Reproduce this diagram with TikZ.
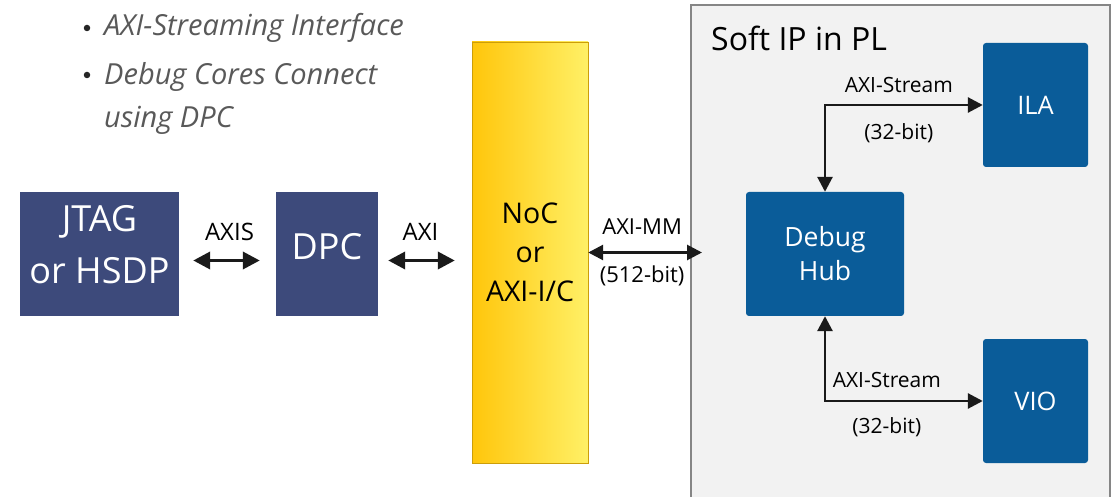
\documentclass[tikz,border=0pt]{standalone}
\usepackage{fontspec}
\setmainfont{Open Sans}
\usetikzlibrary{arrows.meta}
\definecolor{slate}{HTML}{3D4A7B}
\definecolor{ipblue}{HTML}{0A5C99}
\definecolor{softbg}{HTML}{F2F2F2}
\definecolor{softedge}{HTML}{868686}
\definecolor{bullettext}{HTML}{595959}
\definecolor{nocleft}{HTML}{FFC60B}
\definecolor{nocright}{HTML}{FFF066}
\definecolor{linkcol}{HTML}{1A1A1A}
\tikzset{
  fsz/.style={font=\fontsize{#1}{#1}\selectfont},
  hostbox/.style={fill=slate, inner sep=0pt, minimum height=124pt},
  hosttxt/.style={text=white, inner sep=0pt, align=center},
  ipbox/.style={fill=ipblue, text=white, rounded corners=3pt, inner sep=0pt,
    align=center, minimum height=124pt},
  hostlink/.style={draw=linkcol, line width=3.6pt,
    {Triangle[length=17pt,width=17pt]}-{Triangle[length=17pt,width=17pt]}},
  link/.style={draw=linkcol, line width=2.8pt,
    {Triangle[length=15pt,width=15pt]}-{Triangle[length=15pt,width=15pt]}},
  lbl/.style={text=black, inner sep=0pt, anchor=base, fsz=#1},
  lbl/.default=21,
  bulletdot/.style={circle, fill=black!85, inner sep=0pt, minimum size=6.5pt},
  bullettxt/.style={anchor=base west, inner sep=0pt, text=bullettext,
    font=\fontsize{29}{29}\selectfont\itshape},
}
\begin{document}
\begin{tikzpicture}[x=1pt, y=-1pt]
\useasboundingbox (0,0) rectangle (1112,497);

% bullet list
\node[bulletdot] (b1) at (87,28) {};
\node[bulletdot] (b2) at (87,75) {};
\node[bullettxt] (t1) at (104,36) {AXI-Streaming Interface};
\node[bullettxt] (t2) at (104,85) {Debug Cores Connect};
\node[bullettxt] (t3) at (104,128) {using DPC};

% host side blocks
\node[hostbox, minimum width=159pt] (jtag) at (99.5,254) {};
\node[hosttxt, font=\fontsize{36}{52}\selectfont] (jtagtxt)
  at ([yshift=9pt]jtag.center) {JTAG\\or HSDP};
\node[hostbox, minimum width=102pt] (dpc) at (327,254) {};
\node[hosttxt, fsz=36] (dpctxt) at ([yshift=7pt]dpc.center) {DPC};

% interconnect
\node[draw=nocleft!80!black, line width=0.4pt, left color=nocleft, right color=nocright,
      minimum width=116pt, minimum height=421pt, inner sep=0pt, align=center,
      font=\fontsize{28.5}{39}\selectfont] (noc) at (530,252.5) {NoC\\or\\AXI-I/C};

% programmable logic region
\node[fill=softbg, draw=softedge, line width=2pt, minimum width=419pt,
      minimum height=510pt, inner sep=0pt] (pl) at (900.5,260) {};
\node[anchor=base west, inner sep=0pt, fsz=32] (pltitle) at (711,51) {Soft IP in PL};

\node[ipbox, minimum width=158pt,
      font=\fontsize{26.5}{34}\selectfont] (hub) at (825,254) {Debug\\Hub};
\node[ipbox, minimum width=105pt, fsz=25.5] (ila) at (1035.5,105) {ILA};
\node[ipbox, minimum width=105pt, fsz=25.5] (vio) at (1035.5,401) {VIO};

% connections on the host side
\coordinate (axisL) at ([xshift=14pt,yshift=-6.5pt]jtag.east);
\draw[hostlink] (axisL) -- ([xshift=-16pt]axisL -| dpc.west)
  node[midway, xshift=3pt, yshift=20pt, lbl=24] (laxis) {AXIS};
\coordinate (axiL) at ([xshift=10pt,yshift=-6.5pt]dpc.east);
\draw[hostlink] (axiL) -- ([xshift=-17pt]axiL -| noc.west)
  node[midway, xshift=-1pt, yshift=20pt, lbl=24] (laxi) {AXI};

% memory-mapped link into the PL
\draw[link] (noc.east) -- ([xshift=12pt]noc.east -| pl.west)
  node[midway, xshift=-3pt, yshift=18pt, lbl=22] (lmm) {AXI-MM}
  node[midway, xshift=-3pt, yshift=-30pt, lbl=22] (lmmw) {(512-bit)};

% streaming links to the debug cores
\draw[link] (hub.north) |- (ila.west)
  node[pos=0.734, yshift=12pt, lbl] (ls1) {AXI-Stream}
  node[pos=0.734, yshift=-35pt, lbl] (lw1) {(32-bit)};
\draw[link] (hub.south) |- (vio.west)
  node[pos=0.696, yshift=14pt, lbl] (ls2) {AXI-Stream}
  node[pos=0.696, yshift=-32pt, lbl] (lw2) {(32-bit)};
\end{tikzpicture}
\end{document}
